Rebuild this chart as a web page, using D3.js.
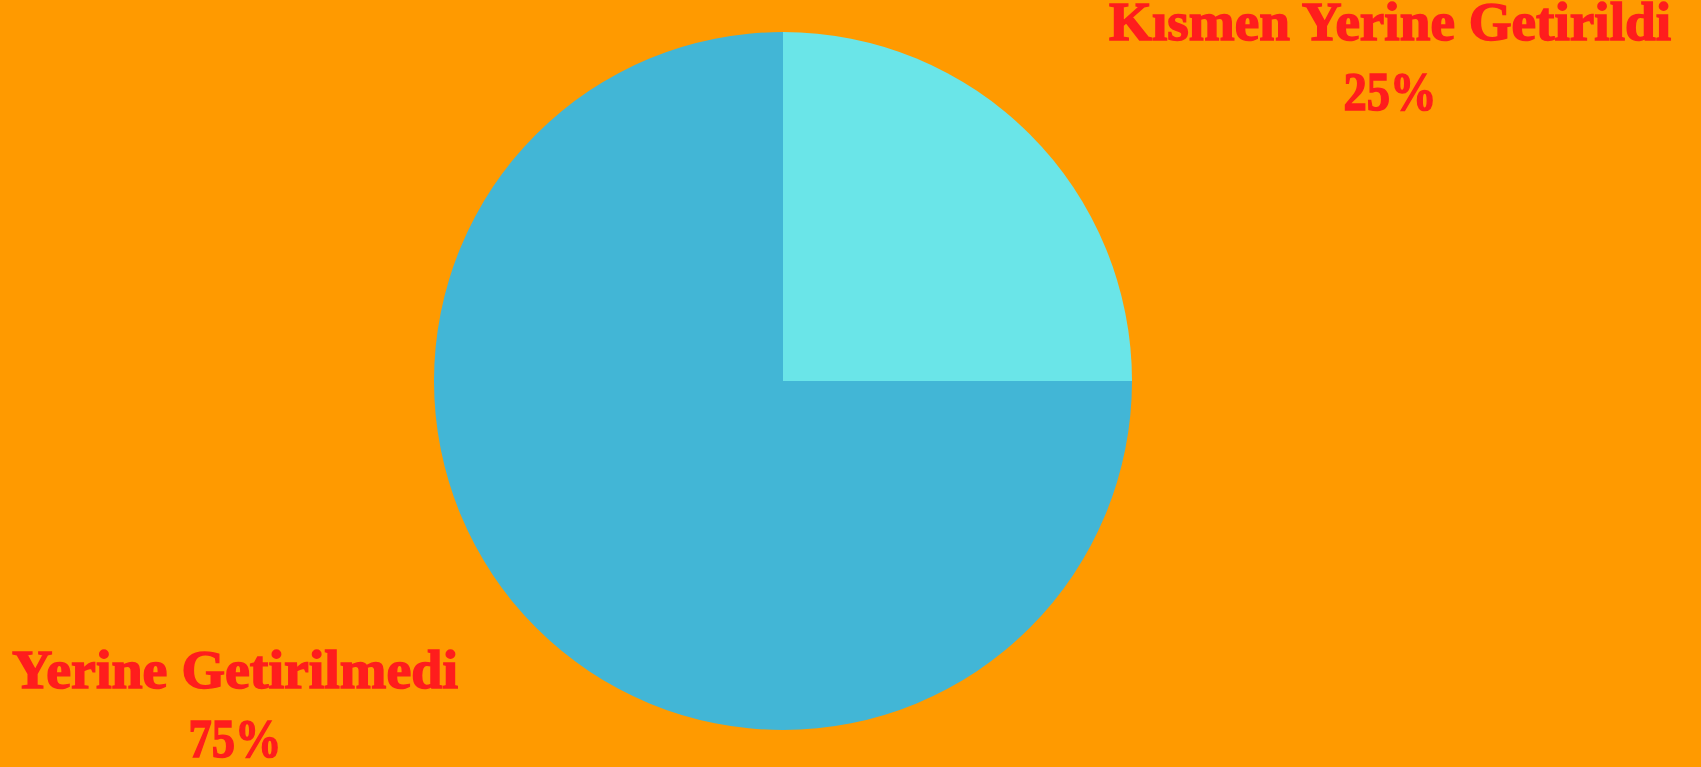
<!DOCTYPE html>
<html>
<head>
<meta charset="utf-8">
<script src="https://cdn.jsdelivr.net/npm/d3@7"></script>
<style>
  html, body { margin: 0; padding: 0; background: #ff9a00; overflow: hidden; }
</style>
</head>
<body>
<div class="svg"></div>
<script>
var w = 1701;
var h = 767;

// chart data
var labels = ["Kısmen Yerine Getirildi", "Yerine Getirilmedi"];
var values = [25, 75];
var colors = ["#6ae5e8", "#42b6d6"];

var cx = 783, cy = 381, radius = 349;

// where the two captions sit (center x, caption baseline, pct baseline, caption width)
var labelPos = [
  { x: 1390, y1: 40, y2: 110, len: 562 },
  { x: 235, y1: 688, y2: 757, len: 446 }
];

var svg = d3.select(".svg")
  .append("svg")
  .attr("width", w)
  .attr("height", h);

svg.append("rect")
  .attr("width", w)
  .attr("height", h)
  .attr("fill", "#ff9a00");

var pie = d3.pie().sort(null).value(function (d) { return d; });
var arc = d3.arc().innerRadius(0).outerRadius(radius);

var slices = svg.append("g")
  .attr("transform", "translate(" + cx + "," + cy + ")")
  .selectAll("path")
  .data(pie(values))
  .enter()
  .append("path")
  .attr("d", arc)
  .attr("fill", function (d, i) { return colors[i]; });

var total = d3.sum(values);

var txt = svg.append("g")
  .selectAll("g")
  .data(labels)
  .enter()
  .append("g")
  .attr("font-family", "'Liberation Serif', 'DejaVu Serif', serif")
  .attr("font-weight", "bold")
  .attr("fill", "#ff1d1d")
  .attr("stroke", "#ff1d1d")
  .attr("stroke-width", 1.5)
  .attr("text-anchor", "middle");

txt.append("text")
  .text(function (d) { return d; })
  .attr("x", function (d, i) { return labelPos[i].x; })
  .attr("y", function (d, i) { return labelPos[i].y1; })
  .attr("font-size", 54)
  .attr("textLength", function (d, i) { return labelPos[i].len; })
  .attr("lengthAdjust", "spacingAndGlyphs");

txt.append("text")
  .text(function (d, i) { return Math.round(values[i] / total * 100) + "%"; })
  .attr("x", function (d, i) { return labelPos[i].x; })
  .attr("y", function (d, i) { return labelPos[i].y2; })
  .attr("font-size", 54)
  .attr("textLength", 93)
  .attr("lengthAdjust", "spacingAndGlyphs");
</script>
</body>
</html>
